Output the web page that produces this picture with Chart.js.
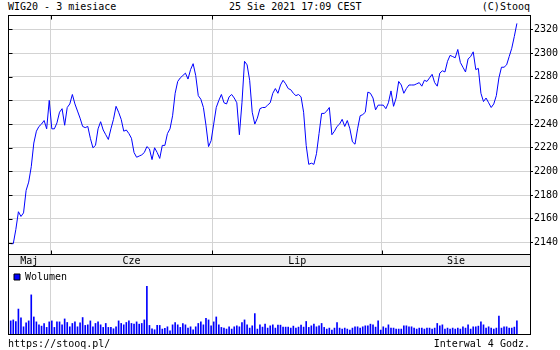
<!DOCTYPE html>
<html>
<head>
<meta charset="utf-8">
<script src="https://cdn.jsdelivr.net/npm/chart.js@4.4.0/dist/chart.umd.min.js"></script>
<style>
  html, body { margin: 0; padding: 0; background: #fff; }
  #wrap { position: relative; width: 560px; height: 350px; overflow: hidden; font-family: "DejaVu Sans Mono", monospace; font-size: 10px; color: #000; }
  .t { position: absolute; line-height: 10px; white-space: pre; }
  canvas { position: absolute; left: 0; }
</style>
</head>
<body>
<div id="wrap">
  <div class="t" style="left:8px; top:2px;">WIG20 - 3 miesiace</div>
  <div class="t" style="left:229px; top:2px;">25 Sie 2021 17:09 CEST</div>
  <div class="t" style="right:30px; top:2px; text-align:right;">(C)Stooq</div>
  <canvas id="main" width="560" height="267" style="top:0;"></canvas>
  <canvas id="vol" width="560" height="84" style="top:266px;"></canvas>
  <div class="t" style="left:8px; top:339px;">https://stooq.pl/</div>
  <div class="t" style="right:30px; top:339px; text-align:right;">Interwal 4 Godz.</div>
</div>
<script>
// ---- data (4-hour bars, 25 May - 25 Aug 2021) ----
const closes = [
  2139,2139,2151,2166,2162,2165,2184,2191,2204,2224,
  2234,2238,2240,2243,2236,2260,2236,2236,2241,2250,
  2253,2239,2254,2257,2265,2257,2251,2245,2238,2237,
  2238,2228,2220,2222,2236,2242,2235,2231,2227,2236,
  2244,2255,2250,2244,2234,2235,2232,2228,2216,2212,
  2213,2214,2216,2221,2219,2210,2220,2216,2211,2222,
  2222,2232,2236,2247,2266,2276,2279,2281,2283,2278,
  2286,2291,2281,2264,2261,2254,2239,2221,2226,2240,
  2254,2260,2265,2258,2257,2263,2265,2262,2258,2231,
  2258,2293,2290,2277,2250,2240,2245,2253,2254,2254,
  2256,2258,2266,2270,2266,2273,2277,2274,2270,2269,
  2266,2264,2265,2263,2250,2222,2206,2207,2206,2215,
  2232,2249,2249,2251,2254,2231,2234,2238,2240,2244,
  2238,2243,2236,2225,2223,2236,2247,2248,2250,2267,
  2266,2262,2252,2256,2256,2256,2253,2258,2268,2255,
  2262,2276,2273,2266,2270,2273,2273,2273,2274,2275,
  2272,2277,2276,2279,2282,2275,2272,2283,2285,2284,
  2293,2298,2297,2296,2303,2292,2288,2284,2295,2297,
  2301,2286,2287,2266,2259,2262,2258,2254,2257,2264,
  2279,2288,2288,2290,2297,2304,2314,2325
];
const volumes = [
  133,143,127,253,163,73,113,133,397,173,
  123,93,80,107,67,123,133,67,123,123,
  93,153,117,73,107,123,73,113,167,87,
  93,133,73,107,123,93,67,107,67,67,
  53,73,133,107,93,117,133,107,100,123,
  100,107,143,483,87,53,43,87,87,50,
  57,73,33,93,117,93,67,107,93,60,
  73,43,73,107,123,93,160,143,83,123,
  173,93,67,60,50,73,50,73,83,73,
  117,143,93,60,83,207,50,93,70,100,
  60,83,93,60,90,90,70,70,70,60,
  80,60,70,90,70,127,67,83,100,73,
  83,107,67,50,60,40,60,117,60,50,
  60,50,40,60,73,73,60,73,83,83,
  100,93,70,133,40,73,60,93,60,60,
  50,50,50,83,83,73,73,60,50,60,
  60,50,60,60,50,60,107,83,93,50,
  60,50,60,50,60,50,73,60,93,50,
  73,73,80,123,93,60,73,60,50,60,
  183,60,73,73,60,60,70,133
];
const monthLabels = ["Maj", "Cze", "Lip", "Sie"];
const monthStarts = [0, 16, 79, 145];
const yTicks = [2140, 2160, 2180, 2200, 2220, 2240, 2260, 2280, 2300, 2320];

// ---- axis extents ----
const X_MIN = -1.05, X_MAX = 202.1;
const Y_MIN = 2130.3, Y_MAX = 2332.1;
const boundaries = monthStarts.slice(1).map(s => s - 0.5);
const edges = [X_MIN].concat(boundaries, [X_MAX]);
const labelCenters = monthLabels.map((_, k) => (edges[k] + edges[k + 1]) / 2);

Chart.defaults.font = { family: '"DejaVu Sans Mono", monospace', size: 10 };
Chart.defaults.color = '#000';

const frame = {
  id: 'frame',
  beforeDraw(chart, args, opts) {
    if (opts.band) {
      const a = chart.chartArea, ctx = chart.ctx;
      ctx.save();
      ctx.fillStyle = '#ececec';
      ctx.fillRect(a.left, a.bottom, a.right - a.left, opts.band);
      ctx.restore();
    }
  },
  afterDraw(chart, args, opts) {
    const a = chart.chartArea, ctx = chart.ctx;
    ctx.save();
    ctx.strokeStyle = '#000';
    ctx.lineWidth = 1;
    const L = Math.round(a.left) + 0.5, T = Math.round(a.top) + 0.5,
          R = Math.round(a.right) + 0.5, B = Math.round(a.bottom) + 0.5;
    ctx.strokeRect(L, T, R - L, B - T);
    if (opts.band) ctx.strokeRect(L, B, R - L, opts.band);
    if (opts.ticks) {
      ctx.beginPath();
      const ys = chart.scales.y, xs = chart.scales.x;
      ys.ticks.forEach(t => {
        const y = Math.round(ys.getPixelForValue(t.value)) + 0.5;
        ctx.moveTo(L, y); ctx.lineTo(L + 4, y);
      });
      xs.ticks.forEach(t => {
        const x = Math.round(xs.getPixelForValue(t.value)) + 0.5;
        ctx.moveTo(x, T); ctx.lineTo(x, T + 4);
        ctx.moveTo(x, B); ctx.lineTo(x, B - 4);
      });
      ctx.stroke();
    }
    ctx.restore();
  }
};

new Chart(document.getElementById('main'), {
  type: 'line',
  data: {
    datasets: [{
      label: 'WIG20',
      data: closes.map((v, i) => ({ x: i, y: v })),
      borderColor: '#0000ff',
      borderWidth: 1,
      pointRadius: 0,
      tension: 0,
      fill: false
    }]
  },
  plugins: [frame],
  options: {
    animation: false,
    responsive: false,
    devicePixelRatio: 1,
    layout: { padding: { left: 8, top: 15, right: 0, bottom: 0 } },
    plugins: {
      legend: { display: false },
      tooltip: { enabled: false },
      frame: { band: 12, ticks: true }
    },
    scales: {
      x: {
        type: 'linear', min: X_MIN, max: X_MAX, position: 'bottom',
        grid: { color: '#d3d3d3', drawTicks: false },
        border: { display: false },
        ticks: { display: false },
        afterBuildTicks: s => { s.ticks = boundaries.map(v => ({ value: v })); },
        afterFit: s => { s.height = 0; }
      },
      xl: {
        type: 'linear', min: X_MIN, max: X_MAX, position: 'bottom',
        grid: { display: false, drawTicks: false },
        border: { display: false },
        ticks: {
          autoSkip: false, maxRotation: 0, padding: 1, color: '#000',
          callback: (v, idx) => monthLabels[idx]
        },
        afterBuildTicks: s => { s.ticks = labelCenters.map(v => ({ value: v })); },
        afterFit: s => { s.height = 13; }
      },
      y: {
        position: 'right', min: Y_MIN, max: Y_MAX,
        grid: { color: '#d3d3d3', tickColor: '#000', tickLength: 3 },
        border: { display: false },
        ticks: { padding: 1, color: '#000', includeBounds: false, callback: v => String(v) },
        afterBuildTicks: s => { s.ticks = yTicks.map(v => ({ value: v })); },
        afterFit: s => { s.width = 30; }
      }
    }
  }
});

new Chart(document.getElementById('vol'), {
  type: 'bar',
  data: {
    datasets: [{
      label: 'Wolumen',
      data: volumes.map((v, i) => ({ x: i, y: v })),
      backgroundColor: '#0000ff',
      borderWidth: 0,
      barThickness: 1
    }]
  },
  plugins: [frame],
  options: {
    animation: false,
    responsive: false,
    devicePixelRatio: 1,
    layout: { padding: { left: 8, top: 0, right: 30, bottom: 16 } },
    plugins: {
      tooltip: { enabled: false },
      frame: { band: 0, ticks: false },
      legend: {
        position: 'chartArea',
        align: 'start',
        labels: {
          boxWidth: 6, boxHeight: 6, padding: 6, color: '#000',
          generateLabels: chart => Chart.defaults.plugins.legend.labels.generateLabels(chart)
            .map(l => Object.assign(l, { strokeStyle: '#000', lineWidth: 1, fillStyle: '#0000ff' }))
        }
      }
    },
    scales: {
      x: {
        type: 'linear', min: X_MIN, max: X_MAX, offset: false,
        grid: { color: '#d3d3d3', drawTicks: false, offset: false },
        border: { display: false },
        ticks: { display: false },
        afterBuildTicks: s => { s.ticks = boundaries.map(v => ({ value: v })); },
        afterFit: s => { s.height = 0; }
      },
      y: { display: false, min: 0, max: 690 }
    }
  }
});
</script>
</body>
</html>
